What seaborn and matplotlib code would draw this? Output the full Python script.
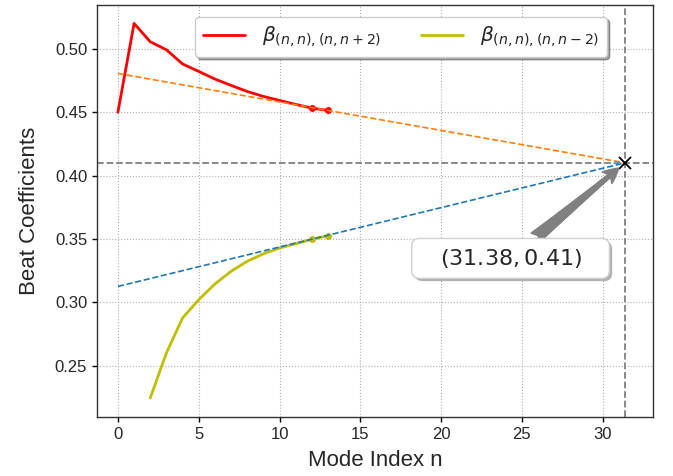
"""beat coefficients vs mode index with linear extrapolation"""

import seaborn as sns
import matplotlib.pyplot as plt
import matplotlib.patheffects as pe
from matplotlib.patches import BoxStyle
import pandas as pd

# curve values
n_plus = [0, 1, 2, 3, 4, 5, 6, 7, 8, 9, 10, 11, 12, 13]
beta_plus = [0.450, 0.520, 0.5055, 0.4992, 0.488, 0.4821, 0.4761, 0.4711,
             0.4663, 0.4624, 0.4592, 0.4561, 0.4532, 0.4513]
n_minus = [2, 3, 4, 5, 6, 7, 8, 9, 10, 11, 12, 13]
beta_minus = [0.2245, 0.260, 0.2876, 0.302, 0.3144, 0.3244, 0.3323, 0.3382,
              0.3428, 0.3462, 0.3496, 0.3525]

# points used for the fits
fit_idx = [12, 13]

# extrapolated fit lines and their crossing
fit_x = [0, 31.38]
fit_plus = [0.4805, 0.41]
fit_minus = [0.3125, 0.41]
cross_x = 31.38
cross_y = 0.41


def wide_round(x0, y0, width, height, mutation_size):
    # rounded box with more padding left/right than top/bottom
    padx = 1.25 * mutation_size
    pady = 0.38 * mutation_size
    return BoxStyle.Round(pad=0, rounding_size=0.35)(
        x0 - padx, y0 - pady, width + 2 * padx, height + 2 * pady, mutation_size
    )


sns.set_style("white")
plt.rcParams["font.family"] = ["Liberation Sans", "DejaVu Sans"]
plt.rcParams["mathtext.fontset"] = "dejavusans"

fig, ax = plt.subplots(figsize=(6.73, 4.76), dpi=100)
fig.subplots_adjust(left=0.144, right=0.970, top=0.99, bottom=0.124)

df_plus = pd.DataFrame({"n": n_plus, "beta": beta_plus})
df_minus = pd.DataFrame({"n": n_minus, "beta": beta_minus})

sns.lineplot(x="n", y="beta", data=df_plus, color="red", lw=2,
             label=r"$\beta_{(n,n),(n,n+2)}$", ax=ax)
sns.lineplot(x="n", y="beta", data=df_minus, color="y", lw=2,
             label=r"$\beta_{(n,n),(n,n-2)}$", ax=ax)

sel_p = df_plus[df_plus["n"].isin(fit_idx)]
sel_m = df_minus[df_minus["n"].isin(fit_idx)]
ax.plot(sel_p["n"], sel_p["beta"], "o", color="red", ms=4)
ax.plot(sel_m["n"], sel_m["beta"], "o", color="y", ms=4)

ax.plot(fit_x, fit_plus, "--", color="C1", lw=1.2)
ax.plot(fit_x, fit_minus, "--", color="C0", lw=1.2)

ax.axhline(cross_y, color="gray", ls="--", lw=1.3)
ax.axvline(cross_x, color="gray", ls="--", lw=1.3)
ax.plot([cross_x], [cross_y], "x", color="black", ms=8, mew=1.3)

ann = ax.annotate(
    rf"$({cross_x:.2f}, {cross_y:.2f})$",
    xy=(cross_x, cross_y),
    xytext=(24.3, 0.3346),
    ha="center", va="center", fontsize=16,
    bbox=dict(boxstyle=wide_round, fc="white", ec="#d0d0d0", lw=1),
    arrowprops=dict(arrowstyle="fancy,head_length=0.6,head_width=0.6,tail_width=0.5",
                    fc="gray", ec="gray", shrinkA=0, shrinkB=6,
                    mutation_scale=18),
)
ann.get_bbox_patch().set_path_effects(
    [pe.SimplePatchShadow(offset=(2, -2), shadow_rgbFace="gray", alpha=0.6),
     pe.Normal()])

ax.set_xlim(-1.3, 33.1)
ax.set_ylim(0.2095, 0.5347)
ax.set_xticks([0, 5, 10, 15, 20, 25, 30])
ax.set_yticks([0.25, 0.30, 0.35, 0.40, 0.45, 0.50])
ax.tick_params(labelsize=12, direction="out", length=3.5, width=1,
               left=True, bottom=True, color="black")
ax.grid(True, ls=":", color="#b0b0b0", lw=0.8)
ax.set_xlabel("Mode Index n", fontsize=16, labelpad=6)
ax.set_ylabel("Beat Coefficients", fontsize=16, labelpad=11)
for s in ax.spines.values():
    s.set_color("#333333")
    s.set_linewidth(1)

ax.legend(loc="upper center", bbox_to_anchor=(0.547, 0.971), borderaxespad=0,
          ncol=2, fontsize=14.5, shadow=True, fancybox=True,
          handlelength=2.1, handletextpad=0.8, columnspacing=2.0,
          borderpad=0.4)

plt.savefig("out.png", dpi=100)
